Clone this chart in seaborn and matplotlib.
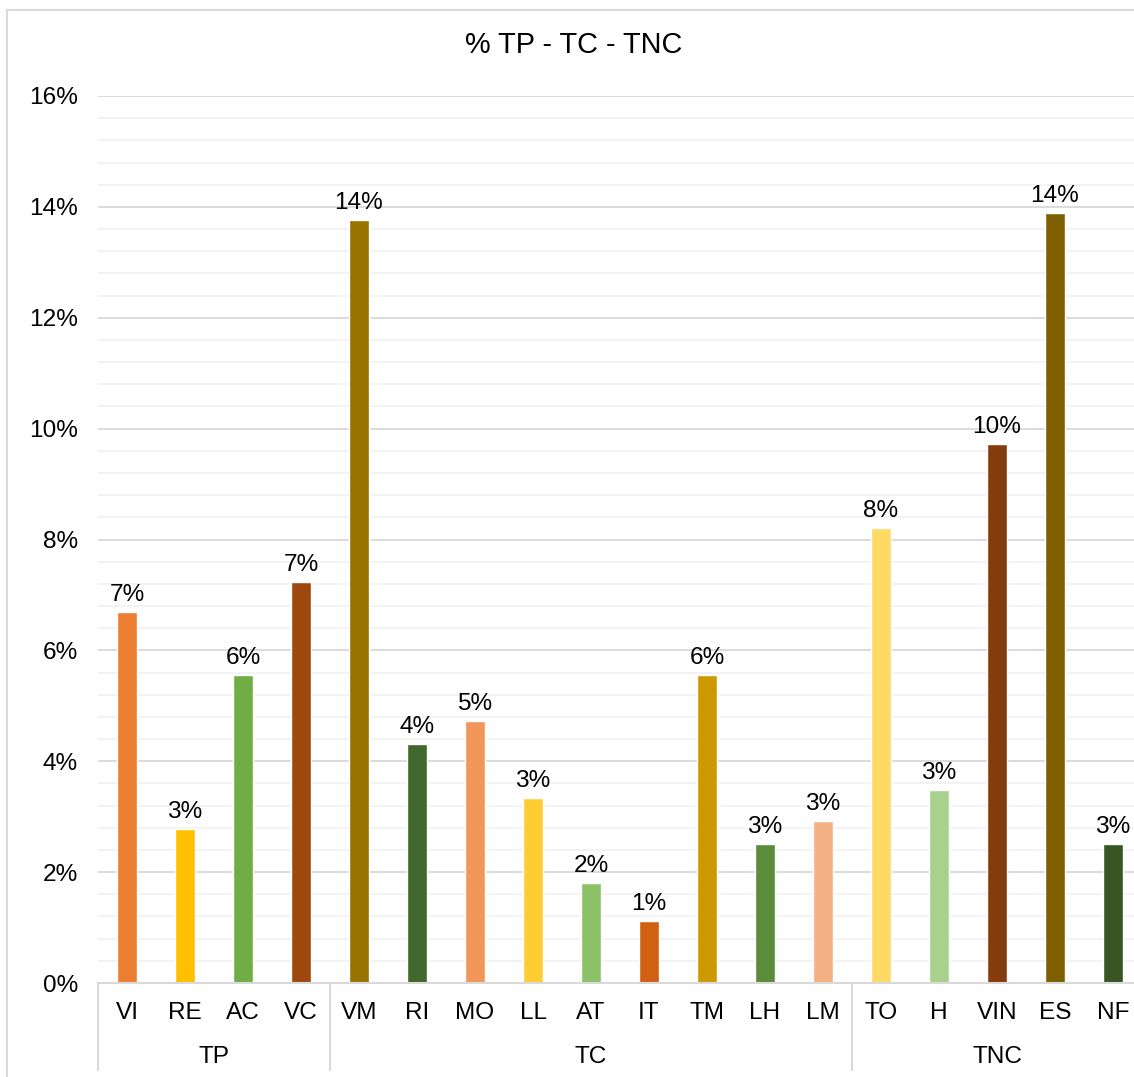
import matplotlib
matplotlib.use("Agg")
import matplotlib.pyplot as plt
import matplotlib.transforms as mtransforms
from matplotlib.lines import Line2D
from matplotlib.ticker import MultipleLocator, FuncFormatter
import pandas as pd
import seaborn as sns

# Data
categories = ["VI", "RE", "AC", "VC",
              "VM", "RI", "MO", "LL", "AT", "IT", "TM", "LH", "LM",
              "TO", "H", "VIN", "ES", "NF"]
groups = ["TP"] * 4 + ["TC"] * 9 + ["TNC"] * 5
values = [6.69, 2.78, 5.56, 7.23,
          13.76, 4.31, 4.73, 3.34, 1.80, 1.12, 5.56, 2.51, 2.92,
          8.21, 3.48, 9.72, 13.89, 2.51]
bar_colors = ["#ED7D31", "#FFC000", "#70AD47", "#9E480E",
              "#997300", "#43682B", "#F1975A", "#FFCD33", "#8CC168",
              "#D26012", "#CC9A00", "#5B8C3A", "#F4B183",
              "#FFD966", "#A9D18E", "#843C0C", "#7F6000", "#375623"]
group_names = ["TP", "TC", "TNC"]
title = "% TP - TC - TNC"

df = pd.DataFrame({"cat": categories, "grp": groups, "val": values})

sns.set_theme(style="white")
plt.rcParams["font.family"] = ["Liberation Sans", "DejaVu Sans"]
text_color = "#000000"
fs = 17.6

W, H = 1134, 1077
fig = plt.figure(figsize=(W / 100, H / 100), dpi=100)
ax = fig.add_axes([98 / W, (H - 983) / H, (1142 - 98) / W, (983 - 96) / H])

sns.barplot(data=df, x="cat", y="val", hue="cat", palette=bar_colors,
            order=categories, hue_order=categories, legend=False,
            width=0.35, saturation=1, ax=ax)

ax.set_ylim(0, 16)
ax.set_xlim(-0.5, len(categories) - 0.5)
ax.yaxis.set_major_locator(MultipleLocator(2))
ax.yaxis.set_minor_locator(MultipleLocator(0.4))
ax.yaxis.set_major_formatter(FuncFormatter(lambda v, p: f"{v:.0f}%"))
ax.grid(which="major", axis="y", color="#D9D9D9", linewidth=1.3, zorder=0)
ax.grid(which="minor", axis="y", color="#F2F2F2", linewidth=1.3, zorder=0)
ax.set_axisbelow(True)
for s in ["top", "right", "left"]:
    ax.spines[s].set_visible(False)
ax.spines["bottom"].set_color("#D9D9D9")
ax.spines["bottom"].set_linewidth(1.5)
ax.tick_params(axis="y", which="both", length=0, pad=14.5, labelsize=fs,
               labelcolor=text_color)
ax.tick_params(axis="x", length=0, pad=13.5, labelsize=fs, labelcolor=text_color)
ax.set_xlabel("")
ax.set_ylabel("")

# Value labels above bars
for patch, v in zip(ax.patches, values):
    x = patch.get_x() + patch.get_width() / 2
    ax.annotate(f"{round(v):.0f}%", xy=(x, v), xytext=(0, 4.5),
                textcoords="offset points", ha="center", va="bottom",
                fontsize=fs, color=text_color)

# Group labels and separators on the category axis
trans = mtransforms.blended_transform_factory(ax.transData, ax.transAxes)
sep_depth = 87 / (983 - 96)
bounds = [-0.5]
start = 0
for g in group_names:
    n = groups.count(g)
    center = start + (n - 1) / 2
    ax.annotate(g, xy=(center, 0), xycoords=trans, xytext=(0, -53),
                textcoords="offset points", ha="center", va="center",
                fontsize=fs, color=text_color)
    start += n
    bounds.append(start - 0.5)
for b in bounds:
    ax.plot([b, b], [0, -sep_depth], transform=trans, color="#D9D9D9",
            linewidth=1.5, clip_on=False)

# Chart area border
fig.add_artist(Line2D([7 / W, 7 / W], [0, 1 - 10 / H], transform=fig.transFigure,
                      color="#D9D9D9", linewidth=1.5))
fig.add_artist(Line2D([7 / W, 1], [1 - 10 / H, 1 - 10 / H], transform=fig.transFigure,
                      color="#D9D9D9", linewidth=1.5))

fig.text(573.5 / W, 1 - 45 / H, title, ha="center", va="center",
         fontsize=20.8, color=text_color)

fig.savefig("out.png", dpi=100, facecolor="white")
